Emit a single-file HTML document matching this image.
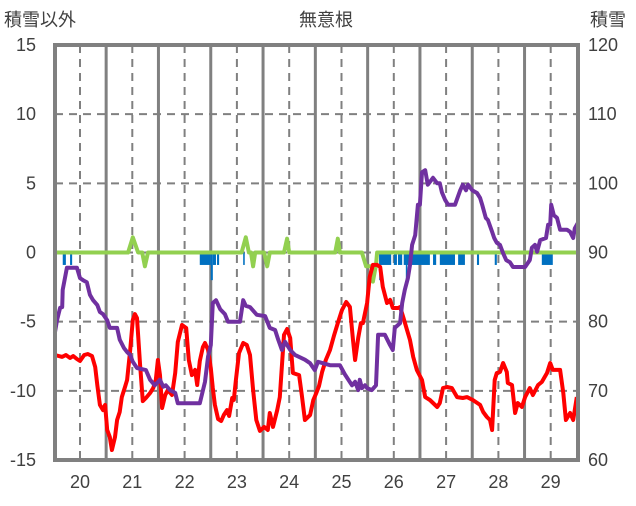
<!DOCTYPE html>
<html><head><meta charset="utf-8">
<style>
html,body{margin:0;padding:0;background:#fff;}
svg text{font-family:"Liberation Sans","Noto Sans CJK JP",sans-serif;fill:#404040;}
</style></head>
<body>
<svg id="chart" width="636" height="501" viewBox="0 0 636 501" xmlns="http://www.w3.org/2000/svg">
<text x="4" y="26" font-size="18">積雪以外</text>
<text x="326" y="26" font-size="18" text-anchor="middle">無意根</text>
<text x="590" y="26" font-size="18">積雪</text>
<g id="grid"></g>
<g id="marks"></g>
<g id="labels"></g>
</svg>
<script>
const leftTicks=[15,10,5,0,-5,-10,-15];
const rightTicks=[120,110,100,90,80,70,60];
const dayLabels=[20,21,22,23,24,25,26,27,28,29];
const redT=[19.52,19.66,19.73,19.81,19.87,19.94,20.00,20.08,20.15,20.23,20.29,20.33,20.38,20.44,20.48,20.52,20.57,20.61,20.67,20.71,20.76,20.80,20.86,20.90,20.96,21.01,21.05,21.09,21.15,21.20,21.26,21.34,21.40,21.45,21.49,21.53,21.57,21.63,21.68,21.76,21.82,21.87,21.95,22.03,22.08,22.14,22.20,22.24,22.29,22.35,22.39,22.45,22.50,22.54,22.58,22.64,22.70,22.75,22.81,22.85,22.91,22.94,22.98,23.04,23.12,23.19,23.25,23.31,23.37,23.44,23.52,23.59,23.63,23.69,23.77,23.82,23.90,23.96,24.02,24.07,24.19,24.24,24.30,24.40,24.46,24.51,24.57,24.63,24.70,24.78,24.86,24.93,25.01,25.09,25.16,25.22,25.26,25.32,25.37,25.41,25.49,25.54,25.60,25.68,25.74,25.79,25.87,25.93,25.98,26.08,26.12,26.18,26.31,26.37,26.44,26.54,26.60,26.69,26.83,26.88,26.94,27.02,27.11,27.21,27.32,27.40,27.51,27.65,27.71,27.78,27.84,27.88,27.93,27.97,28.03,28.09,28.16,28.18,28.26,28.32,28.37,28.45,28.51,28.60,28.66,28.76,28.83,28.93,28.99,29.04,29.18,29.24,29.29,29.37,29.43,29.50];
const redV=[-7.41,-7.55,-7.41,-7.63,-7.48,-7.70,-7.84,-7.41,-7.34,-7.48,-8.28,-9.58,-11.02,-11.39,-11.02,-12.83,-13.34,-14.28,-13.34,-12.11,-11.53,-10.45,-9.72,-9.22,-7.05,-4.88,-4.45,-4.74,-8.13,-10.74,-10.52,-10.16,-9.80,-9.22,-7.77,-8.86,-11.24,-10.30,-9.94,-10.30,-8.71,-6.47,-5.24,-5.46,-7.77,-8.86,-8.49,-9.58,-7.84,-6.83,-6.54,-7.05,-8.35,-9.80,-11.02,-12.04,-12.18,-11.75,-11.39,-11.82,-10.52,-10.66,-9.22,-7.27,-6.54,-6.69,-7.41,-9.94,-12.11,-12.90,-12.61,-12.83,-11.60,-12.61,-11.39,-10.45,-5.96,-5.53,-6.18,-8.71,-8.86,-10.30,-12.11,-11.75,-10.66,-10.23,-9.65,-8.64,-7.77,-7.05,-5.96,-5.10,-4.16,-3.58,-3.94,-6.33,-7.77,-6.18,-5.10,-5.10,-3.65,-1.77,-0.90,-0.90,-1.05,-2.49,-3.65,-3.43,-4.01,-4.01,-3.94,-4.66,-6.33,-7.55,-8.49,-9.22,-10.45,-10.66,-11.17,-10.88,-9.80,-9.72,-9.80,-10.45,-10.52,-10.45,-10.66,-11.02,-11.53,-11.89,-12.11,-12.83,-9.22,-8.71,-8.64,-7.99,-8.64,-9.43,-9.58,-11.60,-10.88,-11.17,-10.45,-9.80,-10.30,-9.58,-9.36,-8.71,-7.99,-8.49,-8.49,-10.16,-12.11,-11.60,-12.11,-10.45];
const snowT=[19.52,19.56,19.62,19.66,19.67,19.75,19.94,20.00,20.06,20.13,20.19,20.25,20.33,20.38,20.44,20.52,20.57,20.71,20.76,20.84,20.90,20.96,21.01,21.09,21.26,21.34,21.43,21.53,21.59,21.64,21.72,21.82,21.87,22.29,22.39,22.45,22.50,22.54,22.60,22.68,22.77,22.83,23.06,23.12,23.17,23.25,23.38,23.54,23.63,23.73,23.79,23.86,23.92,24.02,24.11,24.30,24.40,24.49,24.55,24.78,24.97,25.07,25.20,25.26,25.32,25.35,25.39,25.45,25.49,25.58,25.66,25.70,25.83,25.93,25.98,26.02,26.12,26.16,26.21,26.27,26.31,26.35,26.41,26.46,26.50,26.54,26.60,26.65,26.69,26.75,26.83,26.88,26.92,26.98,27.04,27.17,27.27,27.32,27.38,27.42,27.50,27.59,27.65,27.69,27.76,27.80,27.88,27.92,27.97,28.03,28.09,28.15,28.22,28.28,28.51,28.60,28.64,28.70,28.74,28.80,28.91,28.95,28.99,29.01,29.06,29.12,29.18,29.31,29.37,29.43,29.46,29.52];
const snowV=[78.4,80.2,82.0,82.1,84.6,87.8,87.8,86.3,86.0,85.7,83.9,83.1,82.4,81.4,81.1,80.2,79.1,79.1,77.4,76.2,75.6,75.2,74.2,73.3,73.0,71.6,70.8,71.6,70.6,70.8,70.1,69.7,68.2,68.2,71.3,75.0,76.6,82.7,83.1,81.8,81.1,80.0,80.0,83.1,82.3,82.1,81.0,80.8,79.1,78.8,77.4,75.9,77.1,75.9,75.2,74.5,74.0,73.0,74.2,73.7,73.7,72.3,70.8,71.3,70.1,71.6,70.4,70.8,70.4,70.1,70.8,78.1,78.1,76.6,75.9,79.1,79.8,82.7,84.6,86.3,88.2,91.1,92.5,96.9,96.9,101.6,101.9,99.8,100.2,100.8,100.0,100.0,98.7,97.6,96.9,96.9,99.0,99.8,99.0,99.8,99.0,98.6,97.9,96.9,95.0,94.7,93.0,92.1,91.4,91.1,89.9,88.9,88.6,87.9,87.9,88.9,90.7,91.1,90.1,91.8,92.1,94.0,94.0,96.9,95.4,95.0,93.3,93.3,93.0,92.1,93.5,94.3];
const barStart=[19.67,19.81,22.29,22.54,22.62,23.12,25.72,26.00,26.08,26.19,26.75,26.88,27.23,27.59,27.93,28.83,22.50,25.72,26.23];
const barEnd=[19.73,19.85,22.50,22.60,22.66,23.15,25.95,26.06,26.16,26.69,26.81,27.17,27.36,27.63,27.97,29.04,22.54,25.76,26.25];
const barV=[-0.9,-0.9,-0.9,-0.9,-0.9,-0.9,-0.9,-0.9,-0.9,-0.9,-0.9,-0.9,-0.9,-0.9,-0.9,-0.9,-2.0,-2.0,-2.0];
const greenT=[19.52,20.92,21.01,21.11,21.19,21.24,21.30,23.09,23.17,23.23,23.27,23.31,23.35,23.52,23.58,23.63,23.90,23.96,24.00,24.88,24.93,24.97,25.39,25.47,25.58,25.60,25.66,25.68,29.52];
const greenV=[0,0,1.1,0,0,-1.0,0,0,1.1,0,0,-1.0,0,0,-1.0,0,0,1.0,0,0,1.0,0,0,-1.0,-1.0,-2.1,-0.9,0,0];

const L=55,R=578,T=45,B=460;
const x=t=>80+(t-20)*52.3;
const yL=v=>T+(15-v)*(B-T)/30;
const yR=v=>T+(120-v)*(B-T)/60;
const NS="http://www.w3.org/2000/svg";
function mk(tag,parent,attrs){const e=document.createElementNS(NS,tag);for(const k in attrs)e.setAttribute(k,attrs[k]);parent.appendChild(e);return e;}
const grid=document.getElementById('grid'),marks=document.getElementById('marks'),labels=document.getElementById('labels');

leftTicks.forEach(v=>{
  if(v===15||v===-15)return;
  const ln=mk('line',grid,{x1:L,x2:R,y1:yL(v),y2:yL(v),stroke:'#808080','stroke-width':2,'stroke-dasharray':'8,6'});
  
  
});
dayLabels.forEach(d=>{
  const ln=mk('line',grid,{x1:x(d),x2:x(d),y1:T,y2:B,stroke:'#808080','stroke-width':2,'stroke-dasharray':'8,6'});
  
  
  const b=x(d+0.5);
  if(b<R-2){const s=mk('line',grid,{x1:b,x2:b,y1:T,y2:B,stroke:'#808080','stroke-width':3});
  
  }
  const tx=mk('text',labels,{x:x(d),y:488,'font-size':18,'text-anchor':'middle'});tx.textContent=d;
  
  
});
leftTicks.forEach(v=>{
  const tx=mk('text',labels,{x:36,y:yL(v)+6,'font-size':18,'text-anchor':'end'});tx.textContent=v;
  
  
});
rightTicks.forEach(v=>{
  const tx=mk('text',labels,{x:588,y:yR(v)+6,'font-size':18});tx.textContent=v;
  
  
});
const fr=mk('rect',labels,{x:L,y:T,width:R-L,height:B-T,fill:'none',stroke:'#808080','stroke-width':4});



barStart.forEach((s,i)=>{
  const r=mk('rect',marks,{x:x(s),y:yL(0),width:Math.max(1.5,x(barEnd[i])-x(s)),height:yL(barV[i])-yL(0),fill:'#0070c0'});
  
  
});
function line(ts,vs,yf,color,name){
  const p=mk('polyline',marks,{points:ts.map((t,i)=>x(t).toFixed(1)+','+yf(vs[i]).toFixed(1)).join(' '),fill:'none',stroke:color,'stroke-width':4,'stroke-linejoin':'round'});
  
  
}
line(greenT,greenV,yL,'#92d050','green-series');
line(redT,redV,yL,'#ff0000','temperature-line');
line(snowT,snowV,yR,'#7030a0','snow-depth-line');
</script>
</body></html>
